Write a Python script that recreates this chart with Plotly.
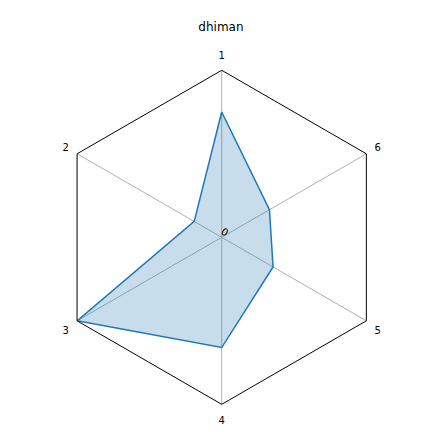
import plotly.graph_objects as go

# Radar chart "dhiman"
categorias = ['1', '2', '3', '4', '5', '6']
valores = [0.75, 0.19, 1.0, 0.66, 0.355, 0.33]

AZUL = '#1f77b4'

fig = go.Figure()
fig.add_trace(go.Scatterpolar(
    r=valores + valores[:1],
    theta=categorias + categorias[:1],
    mode='lines',
    line=dict(color=AZUL, width=1.5),
    fill='toself', fillcolor='rgba(31,119,180,0.25)',
    showlegend=False,
))

# a página tem margem de 8px no body -> compensar no domínio
fig.update_layout(
    width=432, height=432,
    margin=dict(l=0, r=0, t=0, b=0),
    paper_bgcolor='white', plot_bgcolor='white',
    font=dict(family='DejaVu Sans', size=10, color='black'),
    title=dict(text='dhiman', x=0.493, xanchor='center', y=0.956, yanchor='middle',
               font=dict(size=12, color='black')),
    polar=dict(
        domain=dict(x=[0.1081, 0.8813], y=[0.0826, 0.8558]),
        gridshape='linear',
        bgcolor='white',
        angularaxis=dict(
            type='category', categoryarray=categorias,
            direction='counterclockwise', rotation=90,
            showline=True, linecolor='black', linewidth=1,
            showgrid=True, gridcolor='#b0b0b0', gridwidth=1,
            ticks='outside', ticklen=7, tickcolor='rgba(0,0,0,0)',
            tickfont=dict(size=10, color='black'),
        ),
        radialaxis=dict(
            range=[0, 1], angle=0, side='counterclockwise',
            showgrid=False, showline=False, ticks='',
            tickvals=[0], ticktext=['0'],
            tickfont=dict(size=10, color='black'),
        ),
    ),
)

fig.write_html('out.html')
